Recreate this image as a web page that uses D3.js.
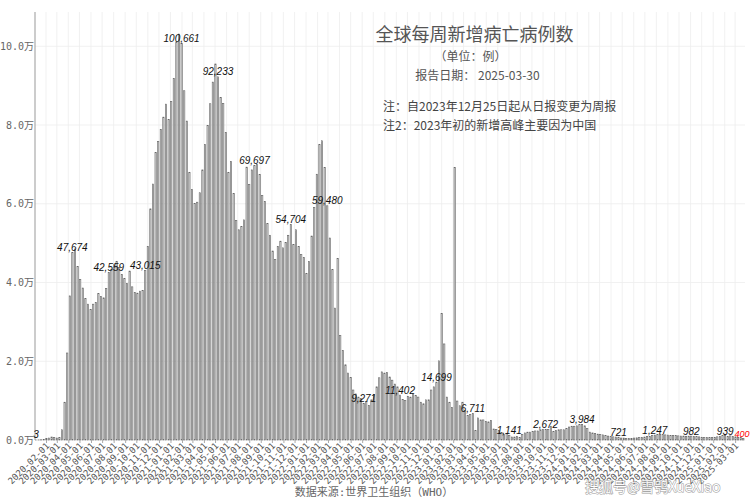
<!DOCTYPE html>
<html><head><meta charset="utf-8">
<script src="https://cdn.jsdelivr.net/npm/d3@7"></script>
<style>body{margin:0;background:#fff} svg{display:block}</style>
</head><body><svg id="c" width="750" height="500"></svg>
<script>
// ---------- data ----------
const firstWeek = "2020-01-05";
const lastWeek = "2025-03-23";
const firstTick = "2020-02-01";
const lastTick = "2025-03-01";
const weeklyDeaths = [
3,20,60,170,350,500,760,590,500,590,
2600,9600,22100,36600,47674,48500,44100,40800,38600,35900,
34500,33100,34500,34900,37200,36500,36100,38500,42559,43400,
44500,45400,43800,42000,41000,39800,42900,38900,37500,37300,
37800,38000,43015,49100,58700,65000,73000,75800,78900,82000,
85300,81400,86000,91800,101100,103100,100661,88700,81000,68000,
63600,60100,60400,62800,68600,75000,79900,85400,90900,95500,
92233,87000,85500,78100,68000,70700,62600,55800,53400,54200,
55900,69300,64900,68600,69697,70000,67400,62100,60600,55000,
52000,48000,45900,49200,50500,48800,50200,52000,54704,49700,
53400,49200,47100,46300,42300,45300,51800,59000,67500,75100,
76000,69200,59480,51300,43300,33500,46100,26500,22700,19100,
17000,15900,12700,11700,10900,10500,9271,9800,8800,10200,
11500,13500,15800,17300,17000,17100,16000,15200,14200,13500,
11402,10300,10000,11100,10900,11700,11300,10900,9600,9200,
10200,10200,12700,13500,14699,20100,32100,24400,10900,9600,
8300,69200,9900,8700,9600,7500,6200,6500,6711,2400,
5600,5100,5100,4700,4600,5000,2800,2700,2400,1900,
1400,1600,1141,760,760,900,600,1400,1800,2000,
2000,2200,2300,2300,2600,2700,2672,2700,3500,2200,
2400,2600,2600,2600,2900,3300,3500,3500,3600,3900,
3984,3600,2900,2000,1800,1600,1500,1400,1300,1100,
1000,900,800,750,721,500,500,400,400,400,
500,550,600,650,750,850,950,1100,1247,1350,
1400,1350,1300,1250,1200,1150,1100,1050,1000,1000,
950,980,982,900,850,800,700,650,600,600,
650,700,800,950,1100,1150,939,1050,900,800,
700,600,400
];
const labelWeeks = [0,14,28,42,56,70,84,98,112,126,140,154,168,182,196,210,224,238,252,266,272];
const yTicks = [0,20000,40000,60000,80000,100000];
const titleText = "全球每周新增病亡病例数";
const unitText = "（单位：例）";
const dateText = "报告日期： 2025-03-30";
const note1 = "注：自2023年12月25日起从日报变更为周报";
const note2 = "注2：2023年初的新增高峰主要因为中国";
const sourceText = "数据来源:世界卫生组织（WHO）";
const watermark = "搜狐号@雪鸮XueXiao";

// ---------- drawing ----------
const svg = d3.select("#c");
const parse = d3.utcParse("%Y-%m-%d");
const t0 = parse(firstWeek), t1 = parse(lastWeek);
const data = weeklyDeaths.map((v,i)=>({date:d3.utcDay.offset(t0,7*i), v, i}));
const lastIdx = weeklyDeaths.length-1;
const x = d3.scaleUtc().domain([t0,t1]).range([36,743.3]);
const y = d3.scaleLinear().domain([0,108700]).range([440,12]);
const months = d3.utcMonth.range(parse(firstTick), d3.utcDay.offset(parse(lastTick),1));
const monoCJK = "'DejaVu Sans Mono','Noto Sans CJK SC',monospace";
const cjk = "'Noto Sans CJK SC','Noto Sans',sans-serif";

// grid
const grid = svg.append("g");
grid.selectAll("line.v").data(months).join("line")
  .attr("x1",d=>x(d)).attr("x2",d=>x(d)).attr("y1",12).attr("y2",440)
  .attr("stroke","#ededed").attr("stroke-width",0.8);
grid.selectAll("line.h").data(yTicks).join("line")
  .attr("x1",35).attr("x2",745).attr("y1",d=>y(d)).attr("y2",d=>y(d))
  .attr("stroke","#ededed").attr("stroke-width",0.8);

// bars
svg.append("g").selectAll("rect").data(data).join("rect")
  .attr("x",d=>x(d.date)-0.65).attr("width",1.3)
  .attr("y",d=>y(d.v)).attr("height",d=>y(0)-y(d.v))
  .attr("fill","#d6d6d6").attr("stroke","#5a5a5a").attr("stroke-width",0.55);

// y axis
const ya = svg.append("g").attr("transform","translate(35,0)")
  .call(d3.axisLeft(y).tickValues(yTicks).tickSize(0).tickPadding(1)
    .tickFormat(d=>(d/10000).toFixed(1)+"万"));
ya.select(".domain").remove();
ya.selectAll("text").attr("font-family",monoCJK).attr("font-size",10).attr("fill","#666");
svg.append("line").attr("x1",35).attr("x2",35).attr("y1",12).attr("y2",440)
  .attr("stroke","#999").attr("stroke-width",1);

// x axis
const xa = svg.append("g").attr("transform","translate(0,440)")
  .call(d3.axisBottom(x).tickValues(months).tickSize(3).tickFormat(d3.utcFormat("%Y-%m-%d")));
xa.select(".domain").remove();
xa.selectAll(".tick line").attr("stroke","#aaa");
xa.selectAll("text").attr("font-family",monoCJK).attr("font-size",9).attr("fill","#555")
  .attr("text-anchor","end").attr("x",0).attr("y",0).attr("dy",0).attr("dx",0)
  .attr("transform","translate(3.5,6.5) rotate(-45)");

// value labels
const labelX = d => d.i===lastIdx ? 749.5 : (d.i===labelWeeks[labelWeeks.length-2] ? x(d.date)-2.5 : x(d.date));
svg.append("g").selectAll("text").data(labelWeeks.map(i=>data[i])).join("text")
  .attr("x",labelX).attr("y",d=>y(d.v)-1.5)
  .attr("text-anchor",d=>d.i===lastIdx?"end":"middle")
  .attr("font-family","'Liberation Sans',Arial,sans-serif")
  .attr("font-style","italic").attr("font-size",d=>d.i===lastIdx?9:10)
  .attr("fill",d=>d.i===lastIdx?"#ff0000":"#111")
  .text(d=>d3.format(",")(d.v));

// titles
const T = svg.append("g").attr("font-family",cjk);
T.append("text").attr("x",474.5).attr("y",41).attr("text-anchor","middle").attr("font-size",18).attr("fill","#555").text(titleText);
T.append("text").attr("x",470.5).attr("y",61).attr("text-anchor","middle").attr("font-size",12).attr("fill","#555").text(unitText);
T.append("text").attr("x",477.5).attr("y",80).attr("text-anchor","middle").attr("font-size",12).attr("fill","#555").text(dateText);
T.append("text").attr("x",383).attr("y",111).attr("font-size",12).attr("fill","#444").text(note1);
T.append("text").attr("x",383).attr("y",129.5).attr("font-size",12).attr("fill","#444").text(note2);

// source
svg.append("text").attr("x",374).attr("y",496).attr("text-anchor","middle")
  .attr("font-family",monoCJK).attr("font-size",11).attr("fill","#666").text(sourceText);

// watermark
svg.append("text").attr("x",585).attr("y",492).attr("font-family",cjk).attr("font-size",14)
  .attr("fill","#fff").attr("stroke","#888").attr("stroke-width",1).attr("paint-order","stroke")
  .attr("opacity",0.85).text(watermark);
</script></body></html>
